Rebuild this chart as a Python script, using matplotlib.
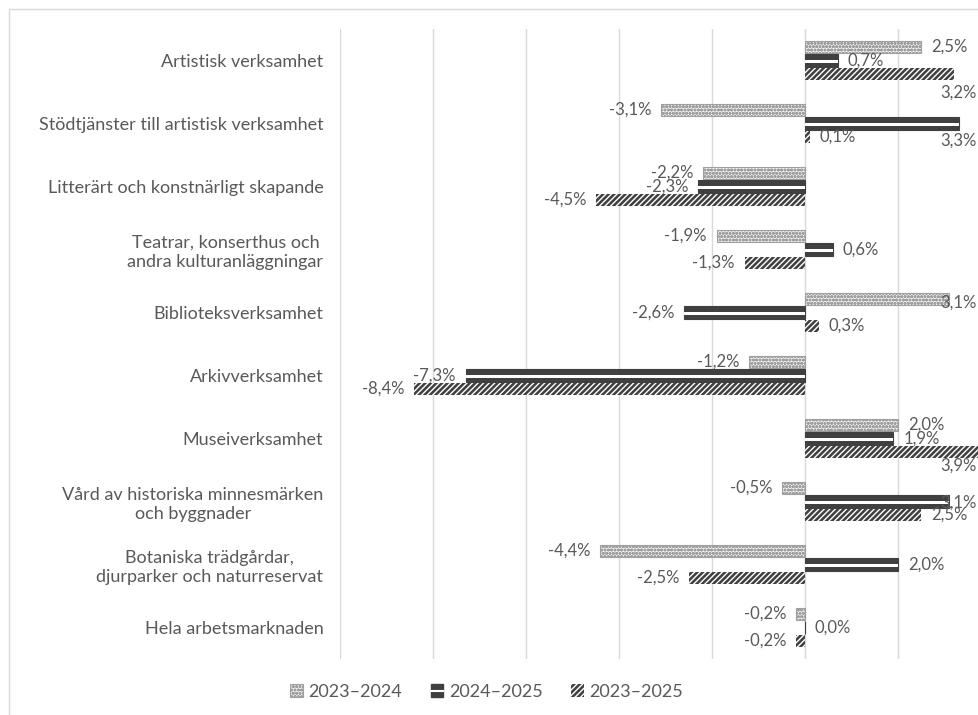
import numpy as np
import matplotlib.pyplot as plt
from matplotlib.patches import Rectangle, Patch
from matplotlib.lines import Line2D

plt.rcParams['font.family'] = ['Lato', 'DejaVu Sans']
plt.rcParams['hatch.linewidth'] = 1.0

# data
categories = ['Artistisk verksamhet',
              'Stödtjänster till artistisk verksamhet',
              'Litterärt och konstnärligt skapande',
              'Teatrar, konserthus och\nandra kulturanläggningar',
              'Biblioteksverksamhet',
              'Arkivverksamhet',
              'Museiverksamhet',
              'Vård av historiska minnesmärken\noch byggnader',
              'Botaniska trädgårdar,\ndjurparker och naturreservat',
              'Hela arbetsmarknaden']
series_names = ['2023–2024', '2024–2025', '2023–2025']
s_2324 = [2.5, -3.1, -2.2, -1.9, 3.1, -1.2, 2.0, -0.5, -4.4, -0.2]
s_2425 = [0.7, 3.3, -2.3, 0.6, -2.6, -7.3, 1.9, 3.1, 2.0, 0.0]
s_2325 = [3.2, 0.1, -4.5, -1.3, 0.3, -8.4, 3.9, 2.5, -2.5, -0.2]

txt = '#595959'
dark = '#404040'

fig = plt.figure(figsize=(9.79, 7.15), dpi=100)
ax = fig.add_axes([340/979, 1 - 659/715, 1 - 340/979, 630/715])

y = np.arange(len(categories))
h = 0.195
off = 0.215

b1 = ax.barh(y - off, s_2324, height=h, color='#f2f2f2', edgecolor='#a0a0a0',
             hatch='ooooo', linewidth=0.8, label=series_names[0], zorder=3)
b2 = ax.barh(y, s_2425, height=h, color=dark, edgecolor=dark,
             linewidth=0.8, label=series_names[1], zorder=3)
ax.barh(y + 0.02, s_2425, height=0.05, color='white', linewidth=0, zorder=4)
b3 = ax.barh(y + off, s_2325, height=h, color=dark, edgecolor='white',
             hatch='//////', linewidth=0, label=series_names[2], zorder=3)

ax.set_xlim(-10, 3.74)
ax.set_ylim(len(categories) - 0.5, -0.5)
ax.set_xticks(np.arange(-10, 4, 2))
ax.xaxis.grid(True, color='#d9d9d9', linewidth=1)
ax.tick_params(axis='x', length=0, labelbottom=False)
ax.tick_params(axis='y', length=0, pad=12)
ax.set_yticks(y)
ax.set_yticklabels(categories, color=txt, fontsize=13, multialignment='center')
for s in ax.spines.values():
    s.set_visible(False)

# label shifts (pixels) for labels pushed inside the plot edge
edge_shift = {(0, 2): -19, (1, 1): -17, (6, 2): -14, (4, 0): -4, (7, 1): -1}

for si, vals in enumerate([s_2324, s_2425, s_2325]):
    for ci, v in enumerate(vals):
        yy = ci + (si - 1) * off
        lab = f'{v:.1f}%'.replace('.', ',')
        if v > 2.9:
            ax.annotate(lab, xy=(0.997, yy), xycoords=('axes fraction', 'data'),
                        xytext=(0, edge_shift.get((ci, si), 0) * 0.72),
                        textcoords='offset points', ha='right', va='center',
                        color=txt, fontsize=12, zorder=6)
        elif v >= 0:
            ax.annotate(lab, xy=(v, yy), xytext=(7, 0), textcoords='offset points',
                        ha='left', va='center', color=txt, fontsize=12, zorder=6)
        else:
            ax.annotate(lab, xy=(v, yy), xytext=(-7, 0), textcoords='offset points',
                        ha='right', va='center', color=txt, fontsize=12, zorder=6)

h2 = (Patch(facecolor=dark, edgecolor=dark),
      Line2D([0], [0], color='white', linewidth=1.5))
fig.legend([b1, h2, b3], series_names, loc='center', bbox_to_anchor=(0.497, 1 - 692/715),
           ncol=3, frameon=False, fontsize=13, labelcolor=txt,
           handlelength=0.7, handleheight=0.7, handletextpad=0.3, columnspacing=1.6)

fig.patches.append(Rectangle((9/979, -0.1), 1.2, 1 - 9/715 + 0.1, transform=fig.transFigure,
                             fill=False, edgecolor='#d9d9d9', linewidth=1))

fig.savefig('out.png', dpi=100)
